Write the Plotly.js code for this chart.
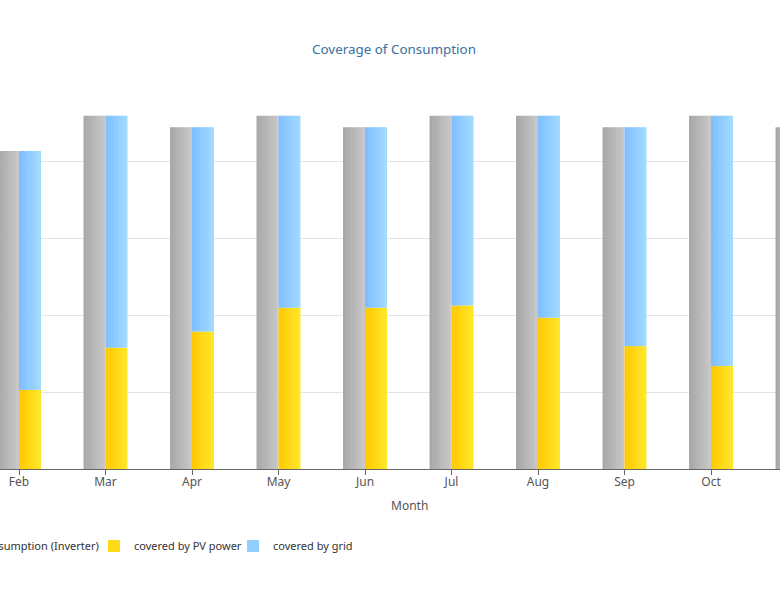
<!DOCTYPE html>
<html><head><meta charset="utf-8">
<script src="https://cdn.plot.ly/plotly-3.0.1.min.js"></script>
<style>body{margin:0;background:#fff}#chart{width:780px;height:600px}</style>
</head><body><div id="chart"></div>
<script>
const months = ['Jan','Feb','Mar','Apr','May','Jun','Jul','Aug','Sep','Oct','Nov','Dec'];
const consumption = [460,414,460,445,460,445,460,460,445,460,445,460];
const pvPower = [70,103,158,179,210,210,213,197,160,134,95,60];
const gridPower = [390,311,302,266,250,235,247,263,285,326,350,400];

const W = 0.254;
const FONT = 'Noto Sans, DejaVu Sans, sans-serif';
const N = 8;

function mix(a, b, t) {
  const pa = a.match(/\w\w/g).map(h => parseInt(h, 16));
  const pb = b.match(/\w\w/g).map(h => parseInt(h, 16));
  return 'rgb(' + pa.map((v, i) => Math.round(v + (pb[i] - v) * t)).join(',') + ')';
}

const series = [
  {name:'Consumption (Inverter)', y:consumption, base:null, off:-W, c0:'a6a6a6', c1:'c9c9c9', legend:'legend'},
  {name:'covered by PV power', y:pvPower, base:null, off:0, c0:'ffc800', c1:'ffe82a', legend:'legend2'},
  {name:'covered by grid', y:gridPower, base:pvPower, off:0, c0:'7dbdff', c1:'a3dcff', legend:'legend3'}
];

const traces = [];
series.forEach(s => {
  for (let k = 0; k < N; k++) {
    const t = {type:'bar', name:s.name, x:months, y:s.y,
      offset:s.off + k * W / N, width:(k === N - 1 ? W / N : W / N + 0.006),
      marker:{color:mix(s.c0, s.c1, (k + 0.5) / N), line:{width:0}},
      legend:s.legend, showlegend:k === Math.floor(N / 2), hoverinfo:'skip'};
    if (s.base) t.base = s.base;
    traces.push(t);
  }
});

const legendCommon = {orientation:'h', xanchor:'left', y:-0.2005, yanchor:'middle',
  font:{family:FONT, size:11, color:'#333'}, bgcolor:'rgba(0,0,0,0)'};

const layout = {
  width:780, height:600,
  margin:{l:0, r:0, t:85, b:131, autoexpand:false},
  paper_bgcolor:'#fff', plot_bgcolor:'#fff',
  barmode:'overlay',
  font:{family:FONT, size:11, color:'#333'},
  title:{text:'Coverage of Consumption', font:{family:FONT, size:13.4, color:'#3c6e9f'},
         x:394/780, xref:'paper', xanchor:'center', y:1-49/600, yref:'container', yanchor:'middle'},
  xaxis:{type:'category', autorange:false, range:[0.7803, 9.7976], showline:true, linecolor:'#666', linewidth:1,
         ticks:'outside', ticklen:5, tickcolor:'#666', showgrid:false, ticklabelstandoff:-3,
         tickfont:{family:FONT, size:12, color:'#555'}},
  yaxis:{autorange:false, range:[0,500], dtick:100, showticklabels:false, showgrid:true, gridcolor:'#e3e3e3',
         zeroline:false, fixedrange:true},
  showlegend:true,
  legend:Object.assign({}, legendCommon, {x:-62/780}),
  legend2:Object.assign({}, legendCommon, {x:(134-40)/780}),
  legend3:Object.assign({}, legendCommon, {x:(273-40)/780}),
  annotations:[{text:'Month', x:409/780, xref:'paper', y:-0.09375, yref:'paper',
                showarrow:false, font:{family:FONT, size:12, color:'#555'}, xanchor:'center', yanchor:'middle'}]
};

Plotly.newPlot('chart', traces, layout, {displayModeBar:false, staticPlot:true});
</script></body></html>
